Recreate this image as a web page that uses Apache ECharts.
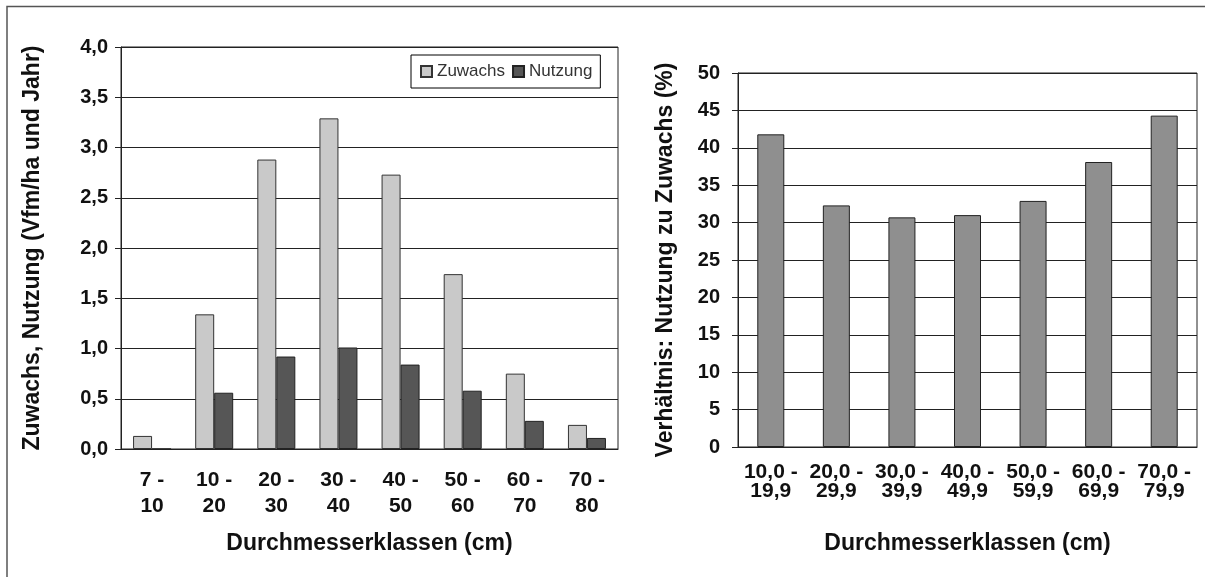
<!DOCTYPE html>
<html>
<head>
<meta charset="utf-8">
<script src="https://cdn.jsdelivr.net/npm/echarts@6/dist/echarts.min.js"></script>
<style>
  html, body { margin: 0; padding: 0; background: #fff; }
  #chart { width: 1205px; height: 577px; }
</style>
</head>
<body>
<div id="chart"></div>
<script>
// Diagramm links: Zuwachs und Nutzung je Durchmesserklasse
var klassenLinks = ['7 -\n10', '10 -\n20', '20 -\n30', '30 -\n40', '40 -\n50', '50 -\n60', '60 -\n70', '70 -\n80'];
var zuwachs = [0.13, 1.34, 2.88, 3.29, 2.73, 1.74, 0.75, 0.24];
var nutzung = [0, 0.56, 0.92, 1.01, 0.84, 0.58, 0.28, 0.11];

// Diagramm rechts: Verhaeltnis Nutzung zu Zuwachs
var klassenRechts = ['10,0 -\n19,9', '20,0 -\n29,9', '30,0 -\n39,9', '40,0 -\n49,9', '50,0 -\n59,9', '60,0 -\n69,9', '70,0 -\n79,9'];
var verhaeltnis = [41.8, 32.3, 30.7, 31.0, 32.9, 38.1, 44.3];

var schrift = '"Liberation Sans", Arial, sans-serif';
var linie = '#222';

var chart = echarts.init(document.getElementById('chart'));

var option = {
    animation: false,
    backgroundColor: '#fff',
    textStyle: { fontFamily: schrift },
    graphic: [{
        type: 'polyline',
        shape: { points: [[7, 577], [7, 6.5], [1205, 6.5]] },
        style: { stroke: '#555', lineWidth: 1.5, fill: null }
    }],
    legend: {
        data: ['Zuwachs', 'Nutzung'],
        left: 411,
        top: 55,
        orient: 'horizontal',
        padding: [8, 8, 8, 9],
        itemGap: 7,
        itemWidth: 11,
        itemHeight: 11,
        icon: 'rect',
        borderColor: '#000',
        borderWidth: 1,
        selectedMode: false,
        textStyle: { fontSize: 17, color: '#333', fontFamily: schrift }
    },
    grid: [
        { left: 121, top: 47, width: 497, height: 402, show: true, borderColor: linie, borderWidth: 1, outerBoundsMode: 'none' },
        { left: 738, top: 73, width: 459, height: 374, show: true, borderColor: linie, borderWidth: 1, outerBoundsMode: 'none' }
    ],
    xAxis: [{
        type: 'category',
        gridIndex: 0,
        data: klassenLinks,
        name: 'Durchmesserklassen (cm)',
        nameLocation: 'middle',
        nameGap: 83,
        nameTextStyle: { fontSize: 23, fontWeight: 'bold', color: '#111', fontFamily: schrift },
        axisLine: { lineStyle: { color: linie, width: 1 } },
        axisTick: { length: 7, lineStyle: { color: linie } },
        axisLabel: { interval: 0, margin: 18, fontSize: 21, fontWeight: 'bold', color: '#111', lineHeight: 26, fontFamily: schrift }
    }, {
        type: 'category',
        gridIndex: 1,
        data: klassenRechts,
        name: 'Durchmesserklassen (cm)',
        nameLocation: 'middle',
        nameGap: 85,
        nameTextStyle: { fontSize: 23, fontWeight: 'bold', color: '#111', fontFamily: schrift },
        axisLine: { lineStyle: { color: linie, width: 1 } },
        axisTick: { length: 7, lineStyle: { color: linie } },
        axisLabel: { interval: 0, margin: 16, fontSize: 21, fontWeight: 'bold', color: '#111', lineHeight: 19, fontFamily: schrift }
    }],
    yAxis: [{
        type: 'value',
        gridIndex: 0,
        min: 0,
        max: 4,
        interval: 0.5,
        name: 'Zuwachs, Nutzung (Vfm/ha und Jahr)',
        nameLocation: 'middle',
        nameRotate: 90,
        nameGap: 77,
        nameTextStyle: { fontSize: 23, fontWeight: 'bold', color: '#111', fontFamily: schrift },
        axisLine: { show: true, lineStyle: { color: linie, width: 1 } },
        axisTick: { show: true, length: 6, lineStyle: { color: linie } },
        axisLabel: {
            margin: 13, fontSize: 20, fontWeight: 'bold', color: '#111', fontFamily: schrift,
            formatter: function (v) { return v.toFixed(1).replace('.', ','); }
        },
        splitLine: { lineStyle: { color: linie, width: 1 } }
    }, {
        type: 'value',
        gridIndex: 1,
        min: 0,
        max: 50,
        interval: 5,
        name: 'Verhältnis: Nutzung zu Zuwachs (%)',
        nameLocation: 'middle',
        nameRotate: 90,
        nameGap: 61,
        nameTextStyle: { fontSize: 23, fontWeight: 'bold', color: '#111', fontFamily: schrift },
        axisLine: { show: true, lineStyle: { color: linie, width: 1 } },
        axisTick: { show: true, length: 6, lineStyle: { color: linie } },
        axisLabel: { margin: 18, fontSize: 20, fontWeight: 'bold', color: '#111', fontFamily: schrift },
        splitLine: { lineStyle: { color: linie, width: 1 } }
    }],
    series: [{
        name: 'Zuwachs',
        type: 'bar',
        xAxisIndex: 0,
        yAxisIndex: 0,
        barWidth: 19,
        barGap: '0%',
        itemStyle: { color: '#c9c9c9', borderColor: '#333', borderWidth: 1 },
        data: zuwachs
    }, {
        name: 'Nutzung',
        type: 'bar',
        xAxisIndex: 0,
        yAxisIndex: 0,
        barWidth: 19,
        barGap: '0%',
        itemStyle: { color: '#565656', borderColor: '#222', borderWidth: 1 },
        data: nutzung
    }, {
        name: 'Verhältnis',
        type: 'bar',
        xAxisIndex: 1,
        yAxisIndex: 1,
        barWidth: 27,
        itemStyle: { color: '#8f8f8f', borderColor: '#222', borderWidth: 1 },
        data: verhaeltnis
    }]
};

chart.setOption(option);
</script>
</body>
</html>
